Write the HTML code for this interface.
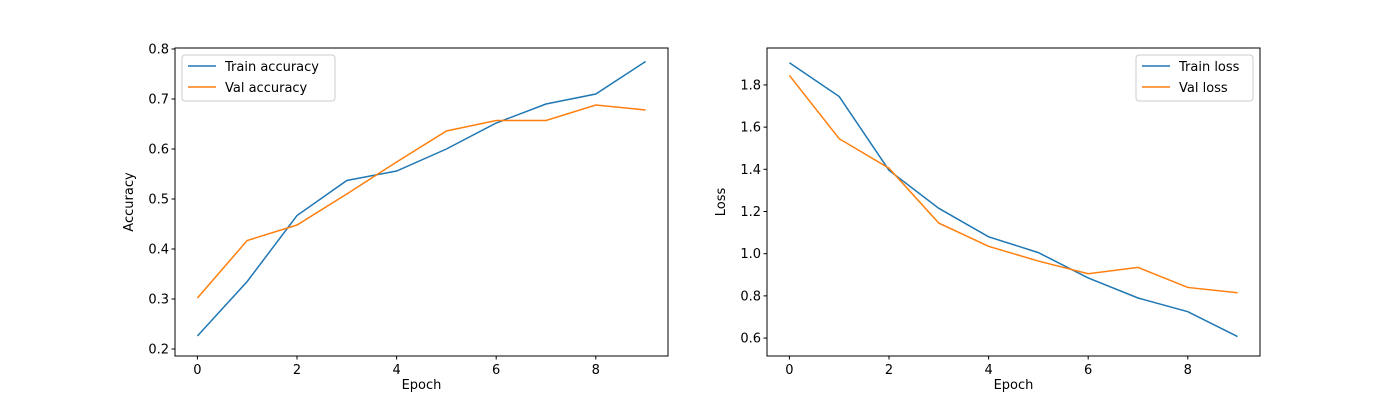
<!DOCTYPE html>
<html><head><meta charset="utf-8"><style>body{margin:0;background:#fff}svg{display:block;font-family:"DejaVu Sans","Liberation Sans",sans-serif}</style></head>
<body>
<svg id="fig" width="1400" height="400" xmlns="http://www.w3.org/2000/svg"></svg>
<script>
const epochs=[0,1,2,3,4,5,6,7,8,9];
const trainAcc=[0.226,0.335,0.467,0.537,0.556,0.600,0.652,0.690,0.710,0.775];
const valAcc=[0.302,0.417,0.448,0.510,0.574,0.636,0.657,0.657,0.688,0.678];
const trainLoss=[1.905,1.745,1.395,1.215,1.080,1.005,0.885,0.790,0.725,0.607];
const valLoss=[1.845,1.545,1.405,1.145,1.035,0.965,0.905,0.935,0.840,0.815];
const xTicks=[0,2,4,6,8];
const accTicks=[0.2,0.3,0.4,0.5,0.6,0.7,0.8];
const lossTicks=[0.6,0.8,1.0,1.2,1.4,1.6,1.8];
const NS="http://www.w3.org/2000/svg";
const svg=document.getElementById('fig');
function mk(t,a,p){const e=document.createElementNS(NS,t);for(const k in a)e.setAttribute(k,a[k]);(p||svg).appendChild(e);return e;}
function panel(name,L,R,ymin,ymax,yt,ylab,s1,s2,n1,n2,legRight){
 const T=48,B=356,xmin=-0.45,xmax=9.45;
 const g=mk('g',{});
 
 
 const X=v=>L+(v-xmin)/(xmax-xmin)*(R-L);
 const Y=v=>B-(v-ymin)/(ymax-ymin)*(B-T);
 [[s1,'#1f77b4',n1],[s2,'#ff7f0e',n2]].forEach(([s,c,n])=>{
  const p=mk('polyline',{points:s.map((v,i)=>X(epochs[i])+','+Y(v)).join(' '),fill:'none',stroke:c,'stroke-width':1.5},g);
  
  
 });
 mk('rect',{x:L,y:T,width:R-L,height:B-T,fill:'none',stroke:'#000','stroke-width':1},g);
 xTicks.forEach(t=>{const x=X(t);mk('line',{x1:x,x2:x,y1:B,y2:B+3.5,stroke:'#000'},g);
  const tx=mk('text',{x:x,y:B+18,'text-anchor':'middle','font-size':13},g);tx.textContent=t;
  });
 yt.forEach(t=>{const y=Y(t);mk('line',{x1:L-3.5,x2:L,y1:y,y2:y,stroke:'#000'},g);
  const tx=mk('text',{x:L-6,y:y+4.5,'text-anchor':'end','font-size':13},g);tx.textContent=t.toFixed(1);
  });
 const xl=mk('text',{x:(L+R)/2,y:389,'text-anchor':'middle','font-size':13},g);xl.textContent='Epoch';
 
 const yx=L-42,yy=(T+B)/2;
 const yl=mk('text',{x:yx,y:yy,'text-anchor':'middle','font-size':13,transform:`rotate(-90 ${yx} ${yy})`},g);yl.textContent=ylab;
 
 const w=legRight?117:153, lx=legRight?R-7-w:L+7;
 const lg=mk('g',{},g);
 
 mk('rect',{x:lx,y:55,width:w,height:46,rx:3,fill:'#fff','fill-opacity':0.8,stroke:'#ccc'},lg);
 [[n1,'#1f77b4',71],[n2,'#ff7f0e',92]].forEach(([n,c,y])=>{
  mk('line',{x1:lx+6,x2:lx+34,y1:y-5,y2:y-5,stroke:c,'stroke-width':1.5},lg);
  const t=mk('text',{x:lx+43,y:y,'font-size':13},lg);t.textContent=n;
  
 });
}
panel('accuracy-chart',175,668,0.186,0.802,accTicks,'Accuracy',trainAcc,valAcc,'Train accuracy','Val accuracy',false);
panel('loss-chart',767,1260,0.515,1.975,lossTicks,'Loss',trainLoss,valLoss,'Train loss','Val loss',true);
</script>
</body></html>
